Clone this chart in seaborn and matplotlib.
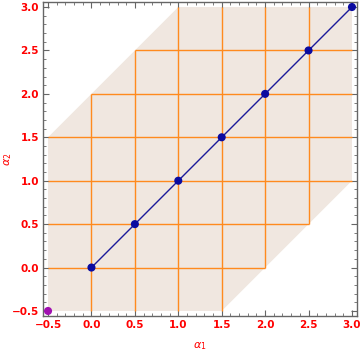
import matplotlib
matplotlib.use("Agg")
import matplotlib.pyplot as plt
from matplotlib.ticker import MultipleLocator
import seaborn as sns
import pandas as pd
import numpy as np

sns.set_style("white")
plt.rcParams['font.family'] = ['DejaVu Sans']

# Data
alpha1 = [0.0, 0.5, 1.0, 1.5, 2.0, 2.5, 3.0]
alpha2 = [0.0, 0.5, 1.0, 1.5, 2.0, 2.5, 3.0]
start_point = (-0.5, -0.5)
grid_vals = [0.0, 0.5, 1.0, 1.5, 2.0, 2.5]
band = 2.0
lo, hi = -0.5, 3.0
region_x = [-0.5, 1.5, 3.0, 3.0, 1.0, -0.5]
region_y = [-0.5, -0.5, 1.0, 3.0, 3.0, 1.5]

df = pd.DataFrame({"a1": alpha1, "a2": alpha2})

fig = plt.figure(figsize=(3.6, 3.54), dpi=100)
ax = fig.add_axes([43/360, 1 - 316/354, (357-43)/360, (316-2)/354])

ax.fill(region_x, region_y, color="#F0E7E0", zorder=0, lw=0)

orange = "#FF8A1E"
for c in grid_vals:
    ax.vlines(c, max(lo, c - band), min(hi, c + band), color=orange, lw=1.0, zorder=1)
    ax.hlines(c, max(lo, c - band), min(hi, c + band), color=orange, lw=1.0, zorder=1)

sns.lineplot(data=df, x="a1", y="a2", ax=ax, color="#1A1A9A", lw=1.0, zorder=2, sort=False)
sns.scatterplot(data=df, x="a1", y="a2", ax=ax, color="#0A0AA0", s=34, edgecolor="none", zorder=3)
ax.scatter([start_point[0]], [start_point[1]], color="#A010B0", s=34, edgecolors="none", zorder=3)

pad = 0.058
ax.set_xlim(lo - pad, hi + pad)
ax.set_ylim(lo - pad, hi + pad)

ax.xaxis.set_major_locator(MultipleLocator(0.5))
ax.yaxis.set_major_locator(MultipleLocator(0.5))
ax.xaxis.set_minor_locator(MultipleLocator(0.1))
ax.yaxis.set_minor_locator(MultipleLocator(0.1))
ax.xaxis.set_major_formatter(matplotlib.ticker.FuncFormatter(lambda v, p: f"{v:.1f}".replace("-", "\u2212")))
ax.yaxis.set_major_formatter(matplotlib.ticker.FuncFormatter(lambda v, p: f"{v:.1f}".replace("-", "\u2212")))

ax.tick_params(which="both", direction="in", top=True, right=True, bottom=True, left=True,
               color="#666666", labelcolor="#FF0000", labelsize=7.5, pad=3)
ax.tick_params(which="major", length=4, width=0.8)
ax.tick_params(which="minor", length=2.2, width=0.6)
ax.tick_params(axis="x", labeltop=False)
ax.tick_params(axis="y", labelright=False)
for lab in ax.get_xticklabels() + ax.get_yticklabels():
    lab.set_fontweight("bold")

for sp in ax.spines.values():
    sp.set_color("#666666")
    sp.set_linewidth(1.0)

ax.set_xlabel(r"$\alpha_1$", color="#FF0000", fontsize=8, va="center")
ax.set_ylabel(r"$\alpha_2$", color="#FF0000", fontsize=8, va="center")
ax.xaxis.set_label_coords(0.5, (316 - 346) / 314)
ax.yaxis.set_label_coords((8 - 43) / 314, 0.5)

fig.savefig("out.png", dpi=100)
